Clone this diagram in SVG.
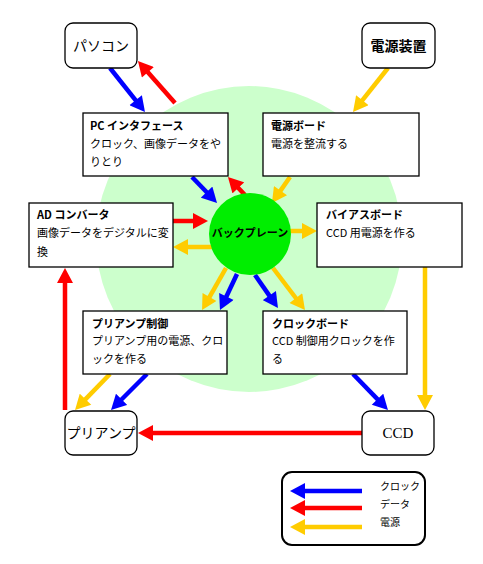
<svg xmlns="http://www.w3.org/2000/svg" width="483" height="564" viewBox="0 0 483 564">
<style>
.box{fill:#fff;stroke:#000;stroke-width:1.3}
.rbox{fill:#fff;stroke:#000;stroke-width:1.3}
.t{font-family:"Noto Sans CJK JP","Noto Sans",sans-serif;font-size:11px;fill:#000}
.tb{font-family:"Noto Sans CJK JP","Noto Sans",sans-serif;font-size:11px;font-weight:bold;fill:#000}
.big{font-family:"Noto Sans CJK JP","Noto Sans",sans-serif;font-size:14px;fill:#000;text-anchor:middle}
.lg{font-family:"Noto Sans CJK JP","Noto Sans",sans-serif;font-size:10px;fill:#000}
.b{stroke:#0000ff;stroke-width:4.5;fill:none}
.r{stroke:#ff0000;stroke-width:4.5;fill:none}
.y{stroke:#ffcc00;stroke-width:4.5;fill:none}
</style>
<defs>
<marker id="hb" markerUnits="userSpaceOnUse" markerWidth="16" markerHeight="16" viewBox="0 0 15 16" refX="3" refY="8" orient="auto"><path d="M0,0 L15,8 L0,16 Z" fill="#0000ff"/></marker>
<marker id="hr" markerUnits="userSpaceOnUse" markerWidth="16" markerHeight="16" viewBox="0 0 15 16" refX="3" refY="8" orient="auto"><path d="M0,0 L15,8 L0,16 Z" fill="#ff0000"/></marker>
<marker id="hy" markerUnits="userSpaceOnUse" markerWidth="16" markerHeight="16" viewBox="0 0 15 16" refX="3" refY="8" orient="auto"><path d="M0,0 L15,8 L0,16 Z" fill="#ffcc00"/></marker>
</defs>
<rect width="483" height="564" fill="#fff"/>
<circle cx="249" cy="239" r="153" fill="#ccffcc"/>

<g id="connectors">
<line class="b" x1="110" y1="68" x2="137.5" y2="102.6" marker-end="url(#hb)"/>
<line class="r" x1="175" y1="103" x2="145.9" y2="70" marker-end="url(#hr)"/>
<line class="y" x1="388" y1="68" x2="360.5" y2="102.6" marker-end="url(#hy)"/>
<line class="b" x1="192" y1="177" x2="208.7" y2="194.3" marker-end="url(#hb)"/>
<line class="r" x1="245" y1="195" x2="236.2" y2="185.7" marker-end="url(#hr)"/>
<line class="y" x1="290" y1="177" x2="278.8" y2="193.1" marker-end="url(#hy)"/>
<line class="r" x1="173" y1="221" x2="196" y2="221" marker-end="url(#hr)"/>
<line class="y" x1="212" y1="247" x2="185" y2="247" marker-end="url(#hy)"/>
<line class="y" x1="288" y1="231" x2="305" y2="231" marker-end="url(#hy)"/>
<line class="y" x1="425" y1="267" x2="425" y2="398" marker-end="url(#hy)"/>
<line class="y" x1="226" y1="268" x2="208" y2="299.6" marker-end="url(#hy)"/>
<line class="b" x1="237" y1="274" x2="225.1" y2="299.2" marker-end="url(#hb)"/>
<line class="b" x1="255" y1="275" x2="271.1" y2="298.1" marker-end="url(#hb)"/>
<line class="y" x1="273" y1="268" x2="297.7" y2="300.5" marker-end="url(#hy)"/>
<line class="y" x1="110" y1="374" x2="83.4" y2="401.4" marker-end="url(#hy)"/>
<line class="b" x1="147" y1="374" x2="119.5" y2="401.5" marker-end="url(#hb)"/>
<line class="b" x1="353" y1="374" x2="379.6" y2="401.4" marker-end="url(#hb)"/>
<line class="r" x1="362" y1="433" x2="150" y2="433" marker-end="url(#hr)"/>
<line class="r" x1="65" y1="410" x2="65" y2="280" marker-end="url(#hr)"/>
</g>

<g id="backplane">
<circle cx="250" cy="234" r="41" fill="#00ee00"/>
<text class="tb" x="250" y="237" text-anchor="middle">バックプレーン</text>
</g>

<g id="pc">
<rect class="rbox" x="65" y="23" width="72" height="45" rx="8"/>
<text class="big" x="101" y="51">パソコン</text>
</g>
<g id="power-supply">
<rect class="rbox" x="362" y="23" width="73" height="45" rx="8"/>
<text class="big" x="398.5" y="51" font-weight="bold">電源装置</text>
</g>

<g id="pc-interface">
<rect class="box" x="83" y="113" width="145" height="63"/>
<text class="tb" x="90" y="130">PC インタフェース</text>
<text class="t" x="90" y="148">クロック、画像データをや</text>
<text class="t" x="90" y="166">りとり</text>
</g>
<g id="power-board">
<rect class="box" x="263" y="113" width="156" height="63"/>
<text class="tb" x="271" y="130">電源ボード</text>
<text class="t" x="271" y="148">電源を整流する</text>
</g>
<g id="ad-converter">
<rect class="box" x="29" y="203" width="144" height="64"/>
<text class="tb" x="37" y="219">AD コンバータ</text>
<text class="t" x="37" y="237">画像データをデジタルに変</text>
<text class="t" x="37" y="256">換</text>
</g>
<g id="bias-board">
<rect class="box" x="317" y="203" width="145" height="64"/>
<text class="tb" x="326" y="219">バイアスボード</text>
<text class="t" x="326" y="237">CCD 用電源を作る</text>
</g>
<g id="preamp-control">
<rect class="box" x="83" y="311" width="144" height="63"/>
<text class="tb" x="92" y="328">プリアンプ制御</text>
<text class="t" x="92" y="345">プリアンプ用の電源、クロ</text>
<text class="t" x="92" y="363">ックを作る</text>
</g>
<g id="clock-board">
<rect class="box" x="263" y="311" width="144" height="63"/>
<text class="tb" x="272" y="328">クロックボード</text>
<text class="t" x="272" y="345">CCD 制御用クロックを作</text>
<text class="t" x="272" y="363">る</text>
</g>
<g id="preamp">
<rect class="rbox" x="65" y="411" width="72" height="44" rx="8"/>
<text class="big" x="101" y="438" font-size="12">プリアンプ</text>
</g>
<g id="ccd">
<rect class="rbox" x="362" y="411" width="72" height="44" rx="8"/>
<text x="398" y="438" text-anchor="middle" font-family="Liberation Serif, serif" font-size="15">CCD</text>
</g>

<g id="legend">
<rect x="282" y="472" width="143" height="73" rx="10" fill="#fff" stroke="#000" stroke-width="2"/>
<line class="b" x1="362" y1="491" x2="302" y2="491" marker-end="url(#hb)"/>
<line class="r" x1="362" y1="508" x2="302" y2="508" marker-end="url(#hr)"/>
<line class="y" x1="362" y1="527" x2="302" y2="527" marker-end="url(#hy)"/>
<text class="lg" x="380" y="490">クロック</text>
<text class="lg" x="380" y="508">データ</text>
<text class="lg" x="380" y="526">電源</text>
</g>
</svg>
